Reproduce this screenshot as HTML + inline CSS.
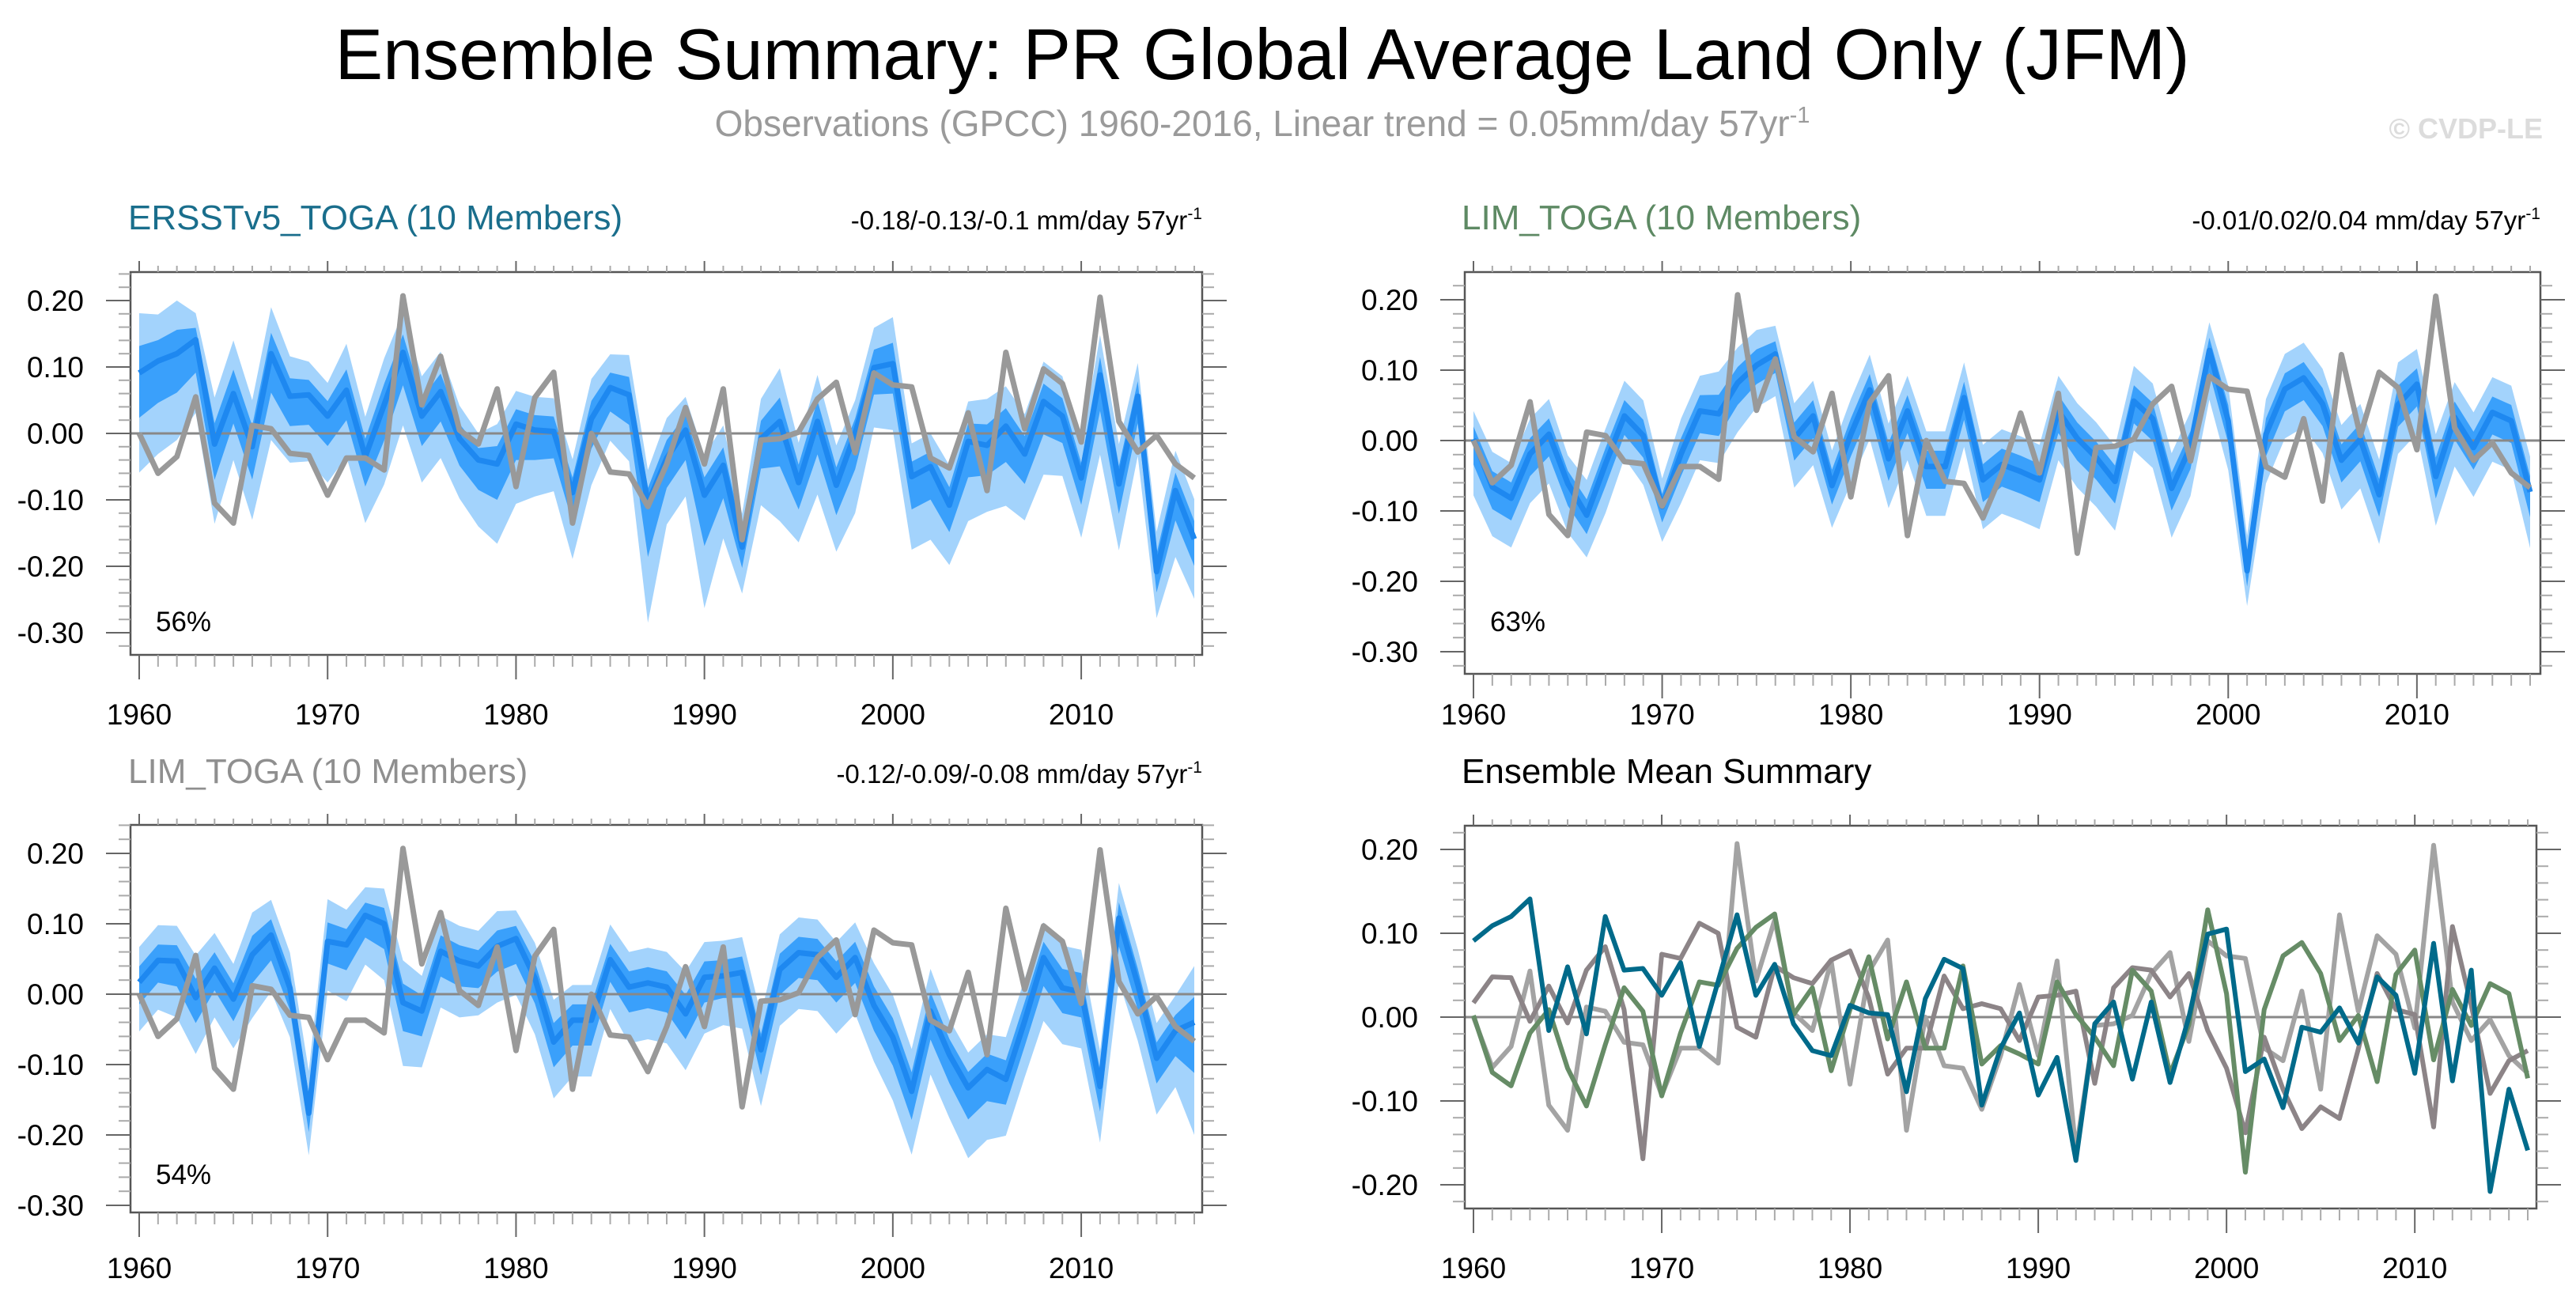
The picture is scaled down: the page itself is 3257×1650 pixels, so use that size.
<!DOCTYPE html>
<html><head><meta charset="utf-8">
<style>
html,body{margin:0;padding:0;background:#fff;}
svg{display:block;font-family:"Liberation Sans",Arial,sans-serif;}
</style></head>
<body>
<svg id="chart" width="3257" height="1650" viewBox="0 0 3257 1650" xmlns="http://www.w3.org/2000/svg">
<text x="1596" y="100" font-size="91" text-anchor="middle" fill="#000">Ensemble Summary: PR Global Average Land Only (JFM)</text>
<text x="1596" y="172" font-size="46" text-anchor="middle" fill="#9a9a9a">Observations (GPCC) 1960-2016, Linear trend = 0.05mm/day 57yr<tspan font-size="29" dy="-17">-1</tspan></text>
<text x="3215" y="175" font-size="36" font-weight="bold" text-anchor="end" fill="#dcdcdc">© CVDP-LE</text>
<g id="panels"></g>
</svg>
<script>
const years = Array.from({length:57},(_, i)=>1960+i);
const obs = [0.0,-0.06,-0.035,0.055,-0.105,-0.135,0.012,0.007,-0.03,-0.033,-0.093,-0.037,-0.037,-0.055,0.207,0.043,0.116,0.005,-0.016,0.067,-0.08,0.054,0.092,-0.135,0.0,-0.058,-0.061,-0.11,-0.046,0.039,-0.046,0.067,-0.16,-0.01,-0.008,0.002,0.052,0.077,-0.029,0.091,0.073,0.07,-0.037,-0.052,0.031,-0.086,0.122,0.007,0.097,0.075,-0.013,0.205,0.018,-0.028,-0.003,-0.046,-0.067];
const ersstMean = [0.091,0.109,0.12,0.141,-0.016,0.06,-0.02,0.12,0.056,0.058,0.026,0.065,-0.035,0.043,0.122,0.026,0.063,-0.008,-0.04,-0.046,0.014,0.005,0.003,-0.089,0.022,0.069,0.058,-0.105,-0.037,0.005,-0.093,-0.048,-0.171,-0.008,0.018,-0.074,0.018,-0.078,0.0,0.099,0.105,-0.065,-0.05,-0.108,-0.012,-0.018,0.011,-0.031,0.048,0.026,-0.067,0.088,-0.076,0.056,-0.208,-0.086,-0.159];
const limMean = [0.002,-0.066,-0.082,-0.019,0.009,-0.061,-0.106,-0.033,0.035,0.007,-0.094,-0.019,0.042,0.038,0.082,0.107,0.123,0.003,0.035,-0.064,0.009,0.072,-0.026,0.042,-0.037,-0.037,0.061,-0.056,-0.034,-0.044,-0.056,0.042,0.003,-0.024,-0.058,0.056,0.031,-0.068,-0.009,0.128,0.028,-0.185,0.009,0.073,0.089,0.052,-0.028,0.002,-0.077,0.051,0.08,-0.051,0.033,-0.01,0.04,0.028,-0.073];
const lim2Mean = [0.017,0.048,0.047,-0.005,0.037,-0.007,0.056,0.084,0.009,-0.169,0.075,0.07,0.112,0.1,-0.012,-0.024,0.061,0.047,0.04,0.068,0.079,0.023,-0.068,-0.037,-0.037,0.049,0.01,0.016,0.01,-0.028,0.024,0.026,0.031,-0.079,0.035,0.059,0.056,0.024,0.052,-0.016,-0.061,-0.138,-0.024,-0.086,-0.133,-0.107,-0.121,-0.038,0.052,0.009,0.003,-0.131,0.108,0.014,-0.091,-0.052,-0.04];
const ersstUp = [0.09,0.07,0.08,0.04,0.07,0.08,0.07,0.07,0.06,0.05,0.05,0.07,0.06,0.07,0.06,0.06,0.06,0.05,0.04,0.06,0.05,0.05,0.05,0.05,0.06,0.05,0.06,0.05,0.06,0.05,0.06,0.06,0.05,0.06,0.08,0.06,0.07,0.06,0.05,0.06,0.07,0.05,0.05,0.06,0.06,0.07,0.06,0.06,0.06,0.06,0.05,0.06,0.06,0.05,0.06,0.06,0.06];
const ersstDn = [0.15,0.14,0.13,0.11,0.12,0.1,0.11,0.13,0.1,0.1,0.1,0.1,0.1,0.12,0.11,0.1,0.1,0.09,0.1,0.12,0.12,0.1,0.09,0.1,0.1,0.08,0.1,0.18,0.1,0.1,0.17,0.11,0.07,0.1,0.15,0.09,0.11,0.1,0.12,0.09,0.1,0.11,0.11,0.09,0.12,0.1,0.12,0.1,0.11,0.09,0.09,0.12,0.1,0.09,0.07,0.1,0.09];
const limUp = [0.04,0.05,0.05,0.05,0.05,0.04,0.05,0.05,0.05,0.05,0.04,0.05,0.05,0.06,0.05,0.05,0.04,0.05,0.05,0.05,0.05,0.05,0.05,0.05,0.05,0.05,0.05,0.05,0.05,0.05,0.05,0.05,0.05,0.05,0.05,0.05,0.05,0.05,0.05,0.04,0.05,0.05,0.05,0.05,0.05,0.05,0.05,0.05,0.05,0.06,0.05,0.06,0.05,0.05,0.05,0.05,0.05];
const limDn = [0.08,0.07,0.07,0.07,0.07,0.07,0.06,0.07,0.06,0.07,0.05,0.07,0.07,0.07,0.07,0.06,0.06,0.07,0.07,0.06,0.07,0.07,0.07,0.07,0.07,0.07,0.07,0.07,0.07,0.07,0.07,0.07,0.07,0.07,0.07,0.07,0.07,0.07,0.07,0.07,0.07,0.05,0.07,0.07,0.07,0.07,0.07,0.07,0.07,0.07,0.07,0.07,0.07,0.07,0.07,0.07,0.08];
const lim2Up = [0.05,0.05,0.05,0.06,0.05,0.05,0.06,0.05,0.05,0.06,0.06,0.05,0.04,0.05,0.06,0.05,0.05,0.05,0.05,0.05,0.04,0.05,0.06,0.05,0.05,0.05,0.05,0.05,0.05,0.06,0.05,0.05,0.05,0.05,0.05,0.05,0.05,0.05,0.05,0.06,0.06,0.06,0.06,0.05,0.05,0.05,0.06,0.06,0.05,0.06,0.06,0.05,0.05,0.05,0.05,0.05,0.08];
const lim2Dn = [0.07,0.07,0.08,0.08,0.07,0.07,0.09,0.08,0.07,0.06,0.07,0.08,0.07,0.08,0.09,0.08,0.08,0.08,0.07,0.08,0.08,0.08,0.08,0.08,0.08,0.07,0.08,0.08,0.08,0.08,0.08,0.07,0.08,0.08,0.08,0.08,0.08,0.08,0.08,0.08,0.09,0.09,0.09,0.09,0.1,0.1,0.08,0.08,0.09,0.08,0.08,0.08,0.09,0.08,0.08,0.08,0.16];
const yTicksA = [0.2,0.1,0.0,-0.1,-0.2,-0.3];
const yTicksB = [0.2,0.1,0.0,-0.1,-0.2];
const xTicks = [1960,1970,1980,1990,2000,2010];

const NS='http://www.w3.org/2000/svg';
const root=document.getElementById('panels');
function mk(tag,attrs,parent){const e=document.createElementNS(NS,tag);for(const k in attrs)e.setAttribute(k,attrs[k]);(parent||root).appendChild(e);return e;}

function panel(cfg){
  const g=mk('g',{});
  
  
  const X=v=>cfg.x0+(v-1960)*(cfg.x1-cfg.x0)/56;
  const Y=v=>cfg.yz-v*cfg.k;
  const L=cfg.bl, R=cfg.br, T=cfg.bt, B=cfg.bb;
  const t=mk('text',{x:cfg.tx,y:cfg.ty,'font-size':44,fill:cfg.tcol},g);t.textContent=cfg.title;
  
  
  if(cfg.trend){
    const tr=mk('text',{x:R,y:cfg.ty,'font-size':33,'text-anchor':'end',fill:'#000'},g);
    tr.innerHTML=cfg.trend+' mm/day 57yr<tspan font-size="21" dy="-13">-1</tspan>';
    
    
  }
  const yt = cfg.ticks;
  if(cfg.mean && cfg.up){
    let pl=[],dl=[];
    years.forEach((yr,i)=>pl.push(X(yr)+','+Y(cfg.mean[i]+cfg.up[i])));
    for(let i=56;i>=0;i--)pl.push(X(years[i])+','+Y(cfg.mean[i]-cfg.dn[i]));
    const lb=mk('polygon',{points:pl.join(' '),fill:'#a3d3fc'},g);
    
    
    years.forEach((yr,i)=>dl.push(X(yr)+','+Y(cfg.mean[i]+cfg.up[i]*0.45)));
    for(let i=56;i>=0;i--)dl.push(X(years[i])+','+Y(cfg.mean[i]-cfg.dn[i]*0.45));
    const db=mk('polygon',{points:dl.join(' '),fill:'#3aa0fb'},g);
    
    
  }
  const z=mk('line',{x1:L,x2:R,y1:Y(0),y2:Y(0),stroke:'#888','stroke-width':3},g);
  
  
  const line=(arr,col,w,name)=>{
    const p=mk('polyline',{points:years.map((yr,i)=>X(yr)+','+Y(arr[i])).join(' '),fill:'none',stroke:col,'stroke-width':w,'stroke-linejoin':'round'},g);
    
    
  };
  if(cfg.summary){
    line(obs,'#a3a3a3',6,'obs-line');
    line(lim2Mean,'#8c8487',6,'lim-toga-2-mean-line');
    line(limMean,'#668c66',6,'lim-toga-mean-line');
    line(ersstMean,'#006a8a',6,'ersst-mean-line');
  } else {
    line(cfg.mean,'#1e88f0',7,'ensemble-mean-line');
    line(obs,'#999999',7,'obs-line');
  }
  const bx=mk('rect',{x:L,y:T,width:R-L,height:B-T,fill:'none',stroke:'#555','stroke-width':2.5},g);
  
  
  const ymin=(cfg.yz-B)/cfg.k, ymax=(cfg.yz-T)/cfg.k;
  for(let v=Math.ceil(ymin*50);v<=Math.floor(ymax*50);v++){
    const major=v%5===0, yy=Y(v/50), len=major?31:15, col=major?'#666':'#aaa';
    mk('line',{x1:L-len,x2:L,y1:yy,y2:yy,stroke:col,'stroke-width':2},g);
    mk('line',{x1:R,x2:R+len,y1:yy,y2:yy,stroke:col,'stroke-width':2},g);
  }
  yt.forEach(v=>{
    const tx=mk('text',{x:L-59,y:Y(v)+13,'font-size':37,'text-anchor':'end',fill:'#000'},g);
    tx.textContent=v.toFixed(2);
    
    
  });
  years.forEach(yr=>{
    const major=yr%10===0,xx=X(yr),col=major?'#666':'#aaa';
    mk('line',{x1:xx,x2:xx,y1:B,y2:B+(major?31:15),stroke:col,'stroke-width':2},g);
    mk('line',{x1:xx,x2:xx,y1:T,y2:T-(major?14:8),stroke:col,'stroke-width':2},g);
  });
  xTicks.forEach(yr=>{
    const tx=mk('text',{x:X(yr),y:cfg.ly,'font-size':37,'text-anchor':'middle',fill:'#000'},g);
    tx.textContent=yr;
    
    
  });
  if(cfg.pct){
    const p=mk('text',{x:L+32,y:cfg.py,'font-size':35,fill:'#000'},g);p.textContent=cfg.pct;
    
    
  }
}
panel({name:'ersst-toga-panel',title:'ERSSTv5_TOGA (10 Members)',tcol:'#1a6e8c',trend:'-0.18/-0.13/-0.1',tx:162,ty:290,
  x0:176,x1:1510,bl:165,br:1520,bt:344,bb:828,yz:548,k:840,mean:ersstMean,up:ersstUp,dn:ersstDn,ticks:yTicksA,pct:'56%',ly:916,py:798});
panel({name:'lim-toga-panel',title:'LIM_TOGA (10 Members)',tcol:'#5e8a64',trend:'-0.01/0.02/0.04',tx:1848,ty:290,
  x0:1863,x1:3199,bl:1852,br:3212,bt:344,bb:852,yz:557,k:890,mean:limMean,up:limUp,dn:limDn,ticks:yTicksA,pct:'63%',ly:916,py:798});
panel({name:'lim-toga-2-panel',title:'LIM_TOGA (10 Members)',tcol:'#8f8f8f',trend:'-0.12/-0.09/-0.08',tx:162,ty:990,
  x0:176,x1:1510,bl:165,br:1520,bt:1043,bb:1533,yz:1257,k:890,mean:lim2Mean,up:lim2Up,dn:lim2Dn,ticks:yTicksA,pct:'54%',ly:1616,py:1497});
panel({name:'ensemble-mean-summary-panel',title:'Ensemble Mean Summary',tcol:'#000',trend:null,tx:1848,ty:990,
  x0:1863,x1:3196,bl:1852,br:3207,bt:1044,bb:1528,yz:1286,k:1060,summary:true,ticks:yTicksB,ly:1616});
</script>
</body></html>
